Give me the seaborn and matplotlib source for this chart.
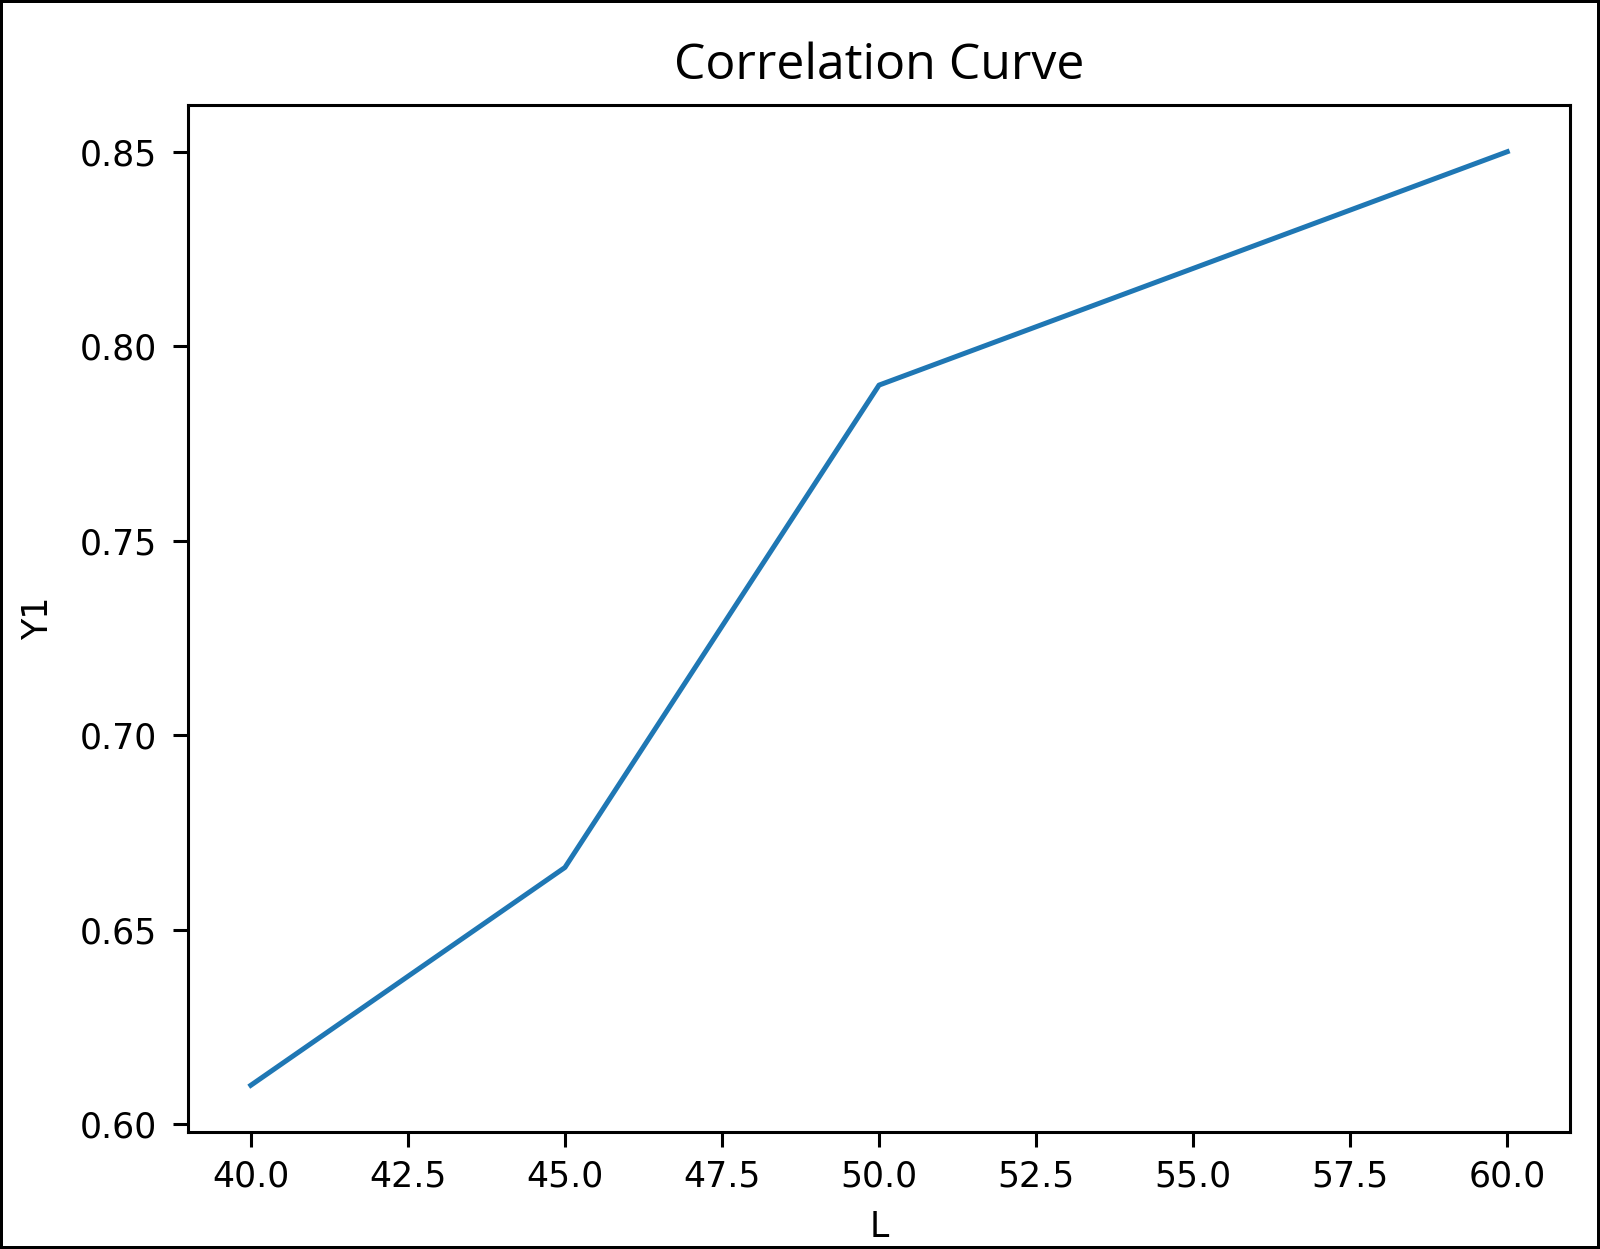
import pandas as pd
import matplotlib
matplotlib.use('Agg')
import matplotlib.pyplot as plt
import seaborn as sns

# data
L_values = [40, 45, 50, 60]
Y1_values = [0.610, 0.666, 0.790, 0.850]
x_ticks = [40.0, 42.5, 45.0, 47.5, 50.0, 52.5, 55.0, 57.5, 60.0]
y_ticks = [0.60, 0.65, 0.70, 0.75, 0.80, 0.85]

data = pd.DataFrame({'L': L_values, 'Y1': Y1_values})

plt.rcParams['font.family'] = ['DejaVu Sans']

fig = plt.figure(figsize=(16, 12.49), dpi=100, edgecolor='black', linewidth=4)
ax = fig.add_axes([0.1175, 0.0937, 0.8638, 0.8222])

sns.lineplot(x='L', y='Y1', data=data, ax=ax, color='#1f77b4', linewidth=3.6)

ax.set_xticks(x_ticks)
ax.set_xticklabels([f'{v:.1f}' for v in x_ticks])
ax.set_yticks(y_ticks)
ax.set_yticklabels([f'{v:.2f}' for v in y_ticks])
ax.set_xlim(39.0, 61.0)
ax.set_ylim(0.598, 0.862)

ax.tick_params(labelsize=25, length=11, width=2.2)
ax.tick_params(axis='x', pad=9)
ax.tick_params(axis='y', pad=11)
for sp in ax.spines.values():
    sp.set_linewidth(2.2)

ax.set_title('Correlation Curve', fontsize=36, pad=19, family=['Open Sans', 'DejaVu Sans'])
ax.set_xlabel('L', fontsize=25, labelpad=12)
ax.set_ylabel('Y1', fontsize=25, labelpad=18)

plt.savefig('out.png', dpi=100, edgecolor=fig.get_edgecolor())
